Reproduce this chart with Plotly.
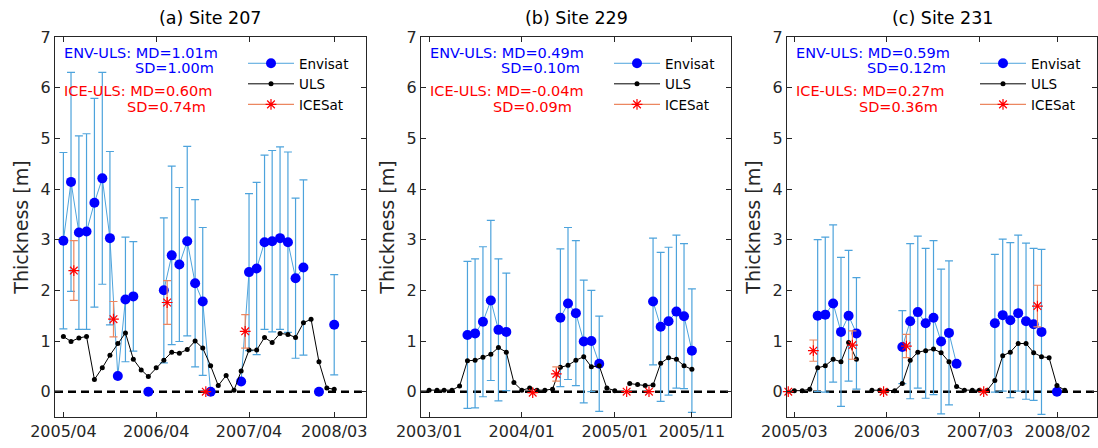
import plotly.graph_objects as go

# ---------------- data ----------------
# (a) Site 207
a_months = ["2005-04", "2005-05", "2005-06", "2005-07", "2005-08", "2005-09", "2005-10", "2005-11", "2005-12",
            "2006-01", "2006-02", "2006-03", "2006-04", "2006-05", "2006-06", "2006-07", "2006-08", "2006-09",
            "2006-10", "2006-11", "2006-12", "2007-01", "2007-02", "2007-03", "2007-04", "2007-05", "2007-06",
            "2007-07", "2007-08", "2007-09", "2007-10", "2007-11", "2007-12", "2008-01", "2008-02", "2008-03"]
a_env = [2.98, 4.14, 3.14, 3.16, 3.73, 4.21, 3.03, 0.31, 1.82, 1.88, None, 0.0, None, 2.00, 2.69, 2.51, 2.97, 2.14,
         1.78, 0.0, None, None, None, 0.20, 2.36, 2.43, 2.95, 2.97, 3.03, 2.95, 2.24, 2.45, None, 0.0, None, 1.32]
a_env_err = [1.74, 2.16, 1.91, 1.93, 2.06, 2.09, 1.71, None, 1.23, 1.08, None, None, None, 1.43, 1.76, 1.52, 1.87, 1.65,
             1.46, None, None, None, None, None, 1.55, 1.70, 1.72, 1.79, 1.80, 1.78, 1.58, 1.73, None, None, None, 0.99]
a_uls = [1.09, 0.99, 1.06, 1.09, 0.24, 0.47, 0.72, 0.95, 1.16, 0.64, 0.43, 0.30, 0.47, 0.62, 0.78, 0.76, 0.83, 1.00,
         0.86, 0.51, 0.12, 0.32, 0.03, 0.41, 0.82, 0.82, 1.07, 0.97, 1.15, 1.13, 1.07, 1.36, 1.43, 0.59, 0.07, 0.05]
a_ice_dates = ["2005-05-12", "2005-10-15", "2006-05-14", "2006-10-13", "2007-03-17"]
a_ice = [2.39, 1.43, 1.76, 0.0, 1.19]
a_ice_err = [0.59, 0.35, 0.43, None, 0.33]
a_ticks = ["2005-04-01", "2006-04-01", "2007-04-01", "2008-03-01"]
a_ticktext = ["2005/04", "2006/04", "2007/04", "2008/03"]
a_range = ["2005-02-27", "2008-07-04"]
a_title = "(a) Site 207"
a_stats = ["ENV-ULS: MD=1.01m", "SD=1.00m", "ICE-ULS: MD=0.60m", "SD=0.74m"]

# (b) Site 229
b_months = ["2003-01", "2003-02", "2003-03", "2003-04", "2003-05", "2003-06", "2003-07", "2003-08", "2003-09",
            "2003-10", "2003-11", "2003-12", "2004-01", "2004-02", "2004-03", "2004-04", "2004-05", "2004-06",
            "2004-07", "2004-08", "2004-09", "2004-10", "2004-11", "2004-12", "2005-01", "2005-02", "2005-03",
            "2005-04", "2005-05", "2005-06", "2005-07", "2005-08", "2005-09", "2005-10", "2005-11"]
b_env = [None, None, None, None, None, 1.12, 1.15, 1.38, 1.80, 1.22, 1.18, None, None, None, None, None, None, 1.46,
         1.74, 1.55, 0.99, 1.00, 0.55, None, None, None, None, None, None, 1.78, 1.28, 1.39, 1.58, 1.49, 0.81]
b_env_err = [None, None, None, None, None, 1.45, 1.47, 1.48, 1.58, 1.40, 1.16, None, None, None, None, None, None, 1.36,
             1.50, 1.43, 1.21, 1.00, 0.94, None, None, None, None, None, None, 1.25, 1.47, 1.46, 1.51, 1.43, 1.22]
b_uls = [0.03, 0.03, 0.03, 0.03, 0.11, 0.61, 0.62, 0.68, 0.74, 0.87, 0.78, 0.18, 0.03, 0.07, 0.03, 0.03, 0.05, 0.48,
         0.52, 0.62, 0.69, 0.49, 0.51, 0.07, 0.02, None, 0.16, 0.14, 0.12, 0.13, 0.56, 0.67, 0.64, 0.51, 0.44]
b_ice_dates = ["2004-02-13", "2004-05-16", "2005-02-17", "2005-05-16"]
b_ice = [-0.02, 0.35, 0.0, 0.0]
b_ice_err = [None, 0.14, None, None]
b_ticks = ["2003-01-01", "2004-01-01", "2005-01-01", "2005-11-01"]
b_ticktext = ["2003/01", "2004/01", "2005/01", "2005/11"]
b_range = ["2002-11-30", "2006-04-04"]
b_title = "(b) Site 229"
b_stats = ["ENV-ULS: MD=0.49m", "SD=0.10m", "ICE-ULS: MD=-0.04m", "SD=0.09m"]

# (c) Site 231
c_months = ["2005-03", "2005-04", "2005-05", "2005-06", "2005-07", "2005-08", "2005-09", "2005-10", "2005-11",
            "2005-12", "2006-01", "2006-02", "2006-03", "2006-04", "2006-05", "2006-06", "2006-07", "2006-08",
            "2006-09", "2006-10", "2006-11", "2006-12", "2007-01", "2007-02", "2007-03", "2007-04", "2007-05",
            "2007-06", "2007-07", "2007-08", "2007-09", "2007-10", "2007-11", "2007-12", "2008-01", "2008-02"]
c_env = [None, None, None, 1.50, 1.52, 1.74, 1.18, 1.50, 1.15, None, None, None, None, None, 0.88, 1.39, 1.57, 1.35,
         1.46, 0.99, 1.16, 0.55, None, None, None, None, 1.35, 1.51, 1.41, 1.55, 1.39, 1.33, 1.18, None, 0.0, None]
c_env_err = [None, None, None, 1.50, 1.53, 1.55, 1.47, 1.29, 1.10, None, None, None, None, None, 0.72, 1.53, 1.50, 1.48,
             1.52, 1.43, 1.42, None, None, None, None, None, 1.36, 1.50, 1.53, 1.54, 1.54, 1.50, 1.63, None, None, None]
c_uls = [0.02, 0.02, 0.05, 0.47, 0.51, 0.64, 0.59, 0.97, 0.64, None, 0.03, 0.03, 0.02, 0.02, 0.16, 0.62, 0.78, 0.81,
         0.84, 0.77, 0.59, 0.10, 0.03, 0.03, 0.03, 0.03, 0.22, 0.71, 0.78, 0.95, 0.95, 0.77, 0.69, 0.67, 0.12, 0.03]
c_ice_dates = ["2005-02-05", "2005-05-15", "2005-10-16", "2006-02-16", "2006-05-17", "2007-03-18", "2007-10-16"]
c_ice = [0.0, 0.81, 0.92, 0.0, 0.90, 0.0, 1.69]
c_ice_err = [None, 0.21, 0.28, None, 0.23, None, 0.41]
c_ticks = ["2005-03-01", "2006-03-01", "2007-03-03", "2008-01-04"]
c_ticktext = ["2005/03", "2006/03", "2007/03", "2008/02"]
c_range = ["2005-01-31", "2008-06-07"]
c_title = "(c) Site 231"
c_stats = ["ENV-ULS: MD=0.59m", "SD=0.12m", "ICE-ULS: MD=0.27m", "SD=0.36m"]

y_ticks = [0, 1, 2, 3, 4, 5, 6, 7]
y_range = [-0.5, 7]

# ---------------- style ----------------
FONT = "DejaVu Sans"
AX = "#262626"
ENV_LINE = "#4DA3DC"
ENV_MARK = "#0000FF"
ICE_BAR = "#EC8760"
ICE_MARK = "#FF0000"

W, H = 1098, 448
ML, MR, MT, MB = 55, 1, 37, 31
PW = W - ML - MR
PH = H - MT - MB
panel_px = [(55, 366), (421, 731), (787, 1097)]

panels = [
    (a_months, a_env, a_env_err, a_uls, a_ice_dates, a_ice, a_ice_err, a_ticks, a_ticktext, a_range, a_title, a_stats),
    (b_months, b_env, b_env_err, b_uls, b_ice_dates, b_ice, b_ice_err, b_ticks, b_ticktext, b_range, b_title, b_stats),
    (c_months, c_env, c_env_err, c_uls, c_ice_dates, c_ice, c_ice_err, c_ticks, c_ticktext, c_range, c_title, c_stats),
]

fig = go.Figure()
layout = dict(
    width=W, height=H,
    margin=dict(l=ML, r=MR, t=MT, b=MB),
    paper_bgcolor="white", plot_bgcolor="white",
    font=dict(family=FONT, color=AX, size=15),
    showlegend=True,
)
annotations = []
shapes = []

ice_marker = dict(symbol="asterisk-open", size=9, color=ICE_MARK, line=dict(color=ICE_MARK, width=1.2))

for i, (months, env, env_err, uls, ice_d, ice, ice_err, ticks, ticktext, xr, title, stats) in enumerate(panels):
    sfx = "" if i == 0 else str(i + 1)
    xa, ya = "x" + sfx, "y" + sfx
    lg = "legend" + sfx
    x0px, x1px = panel_px[i]
    d0 = (x0px - ML) / PW
    d1 = (x1px - ML) / PW
    pw = x1px - x0px

    layout["xaxis" + sfx] = dict(
        domain=[d0, min(d1, 1.0)], anchor=ya, type="date", range=xr,
        tickvals=ticks, ticktext=ticktext, ticks="inside", ticklen=5, tickcolor=AX,
        mirror="ticks", showline=True, linecolor=AX, linewidth=1, showgrid=False, zeroline=False,
        tickfont=dict(family=FONT, size=16, color=AX),
    )
    layout["yaxis" + sfx] = dict(
        domain=[0, 1], anchor=xa, range=y_range, tickvals=y_ticks, ticks="inside", ticklen=5, tickcolor=AX,
        mirror="ticks", showline=True, linecolor=AX, linewidth=1, showgrid=False, zeroline=False,
        tickfont=dict(family=FONT, size=16, color=AX),
        title=dict(text="Thickness [m]", font=dict(family=FONT, size=19, color=AX), standoff=6),
    )
    layout[lg] = dict(
        x=(x0px + 244 - 56 - ML) / PW, xanchor="left", y=1 - 11 / PH, yanchor="top",
        bgcolor="rgba(0,0,0,0)", font=dict(family=FONT, size=13.5, color="black"),
        itemwidth=46, tracegroupgap=0,
    )

    # zero line
    shapes.append(dict(type="line", xref=xa + " domain", yref=ya, x0=0, x1=1, y0=0, y1=0,
                       line=dict(color="black", width=2.5, dash="8px,5px"), layer="below"))

    fig.add_trace(go.Scatter(
        x=months, y=env, xaxis=xa, yaxis=ya, mode="lines+markers", name="Envisat", legend=lg,
        line=dict(color=ENV_LINE, width=1), marker=dict(color=ENV_MARK, size=10),
        error_y=dict(type="data", array=env_err, color=ENV_LINE, thickness=1.2, width=4),
    ))
    fig.add_trace(go.Scatter(
        x=months, y=uls, xaxis=xa, yaxis=ya, mode="lines+markers", name="ULS", legend=lg,
        line=dict(color="black", width=1), marker=dict(color="black", size=5),
    ))
    fig.add_trace(go.Scatter(
        x=ice_d, y=ice, xaxis=xa, yaxis=ya, mode="markers", name="ICESat", legend=lg, showlegend=False,
        marker=ice_marker,
        error_y=dict(type="data", array=ice_err, color=ICE_BAR, thickness=1.2, width=4),
        cliponaxis=False,
    ))
    # legend entry for ICESat (line + asterisk as in the reference legend)
    fig.add_trace(go.Scatter(
        x=[None], y=[None], xaxis=xa, yaxis=ya, mode="lines+markers", name="ICESat", legend=lg,
        line=dict(color=ICE_BAR, width=1.2), marker=ice_marker,
    ))

    # title
    annotations.append(dict(text=title, xref=xa + " domain", yref="paper", x=0.5, y=1, xanchor="center",
                            yanchor="middle", yshift=19, showarrow=False,
                            font=dict(family=FONT, size=17.5, color="black")))
    # stats text
    st = [(stats[0], 7, 16, "left", ENV_MARK), (stats[1], 161, 31, "right", ENV_MARK),
          (stats[2], 7, 54, "left", ICE_MARK), (stats[3], 153, 70, "right", ICE_MARK)]
    for txt, xo, yo, anc, col in st:
        annotations.append(dict(text=txt, xref=xa + " domain", yref=ya + " domain", x=xo / pw, y=1 - yo / PH,
                                xanchor=anc, yanchor="middle", showarrow=False,
                                font=dict(family=FONT, size=14.5, color=col)))

layout["annotations"] = annotations
layout["shapes"] = shapes
fig.update_layout(**layout)
fig.write_html("out.html")
